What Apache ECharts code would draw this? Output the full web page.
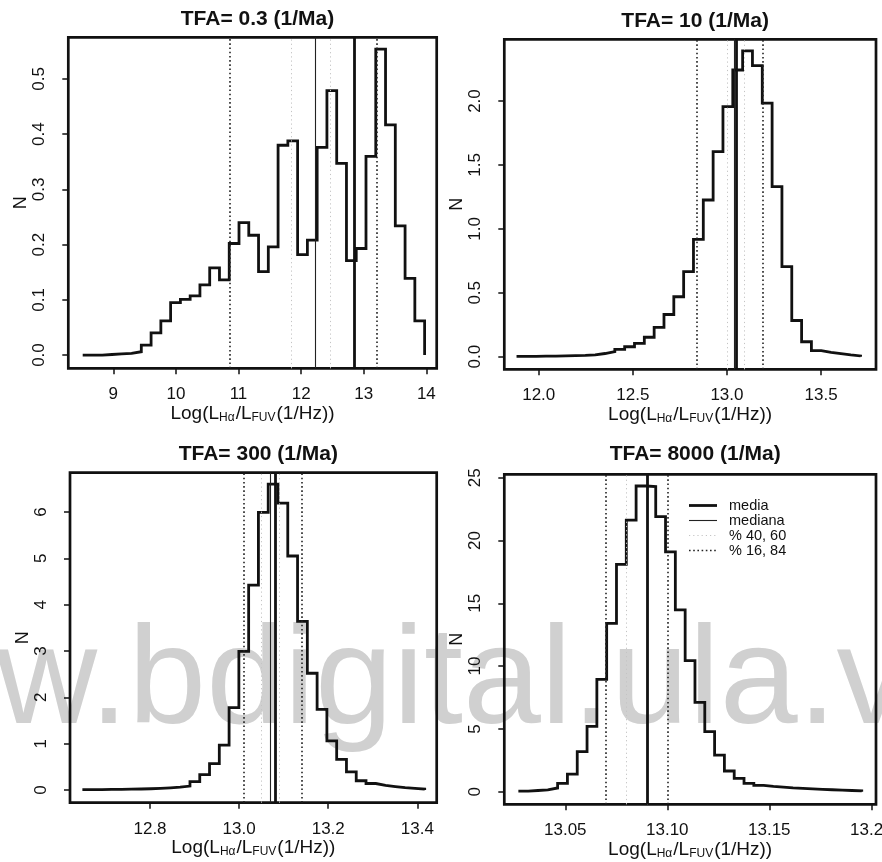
<!DOCTYPE html>
<html><head><meta charset="utf-8">
<script src="https://cdn.jsdelivr.net/npm/echarts@6/dist/echarts.min.js"></script>
<style>html,body{margin:0;padding:0;background:#fff;overflow:hidden}#c{width:910px;height:862px}</style>
</head><body><div id="c"></div>
<script>
// ---------- DATA ----------
const titles = ['TFA= 0.3 (1/Ma)', 'TFA= 10 (1/Ma)', 'TFA= 300 (1/Ma)', 'TFA= 8000 (1/Ma)'];

// panel 1 (TFA = 0.3): first bin edge, bin width, density per bin
const p1Start = 8.512, p1Width = 0.156;
const p1Values = [0.000, 0.000, 0.001, 0.002, 0.003, 0.006, 0.018, 0.040, 0.062, 0.095,
                  0.101, 0.107, 0.127, 0.158, 0.136, 0.202, 0.240, 0.217, 0.151, 0.196,
                  0.380, 0.388, 0.182, 0.208, 0.376, 0.479, 0.347, 0.171, 0.193, 0.360,
                  0.554, 0.417, 0.234, 0.139, 0.062];
const p1Lines = {media: 12.85, mediana: 12.22, p40: 11.85, p60: 12.47, p16: 10.86, p84: 13.20};
const p1XTicks = [9, 10, 11, 12, 13, 14];
const p1YTicks = [0, 0.1, 0.2, 0.3, 0.4, 0.5];

// panel 2 (TFA = 10)
const p2Start = 11.882, p2Width = 0.05223;
const p2Values = [0.002, 0.003, 0.004, 0.005, 0.007, 0.009, 0.011, 0.015, 0.025, 0.040,
                  0.058, 0.078, 0.104, 0.152, 0.230, 0.330, 0.469, 0.665, 0.918, 1.226,
                  1.604, 1.956, 2.243, 2.392, 2.277, 1.983, 1.330, 0.704, 0.283, 0.117,
                  0.047, 0.034, 0.024, 0.014, 0.006];
const p2Lines = {media: 13.053, mediana: 13.045, p40: 12.999, p60: 13.087, p16: 12.844, p84: 13.190};
const p2XTicks = [12.0, 12.5, 13.0, 13.5];
const p2YTicks = [0, 0.5, 1.0, 1.5, 2.0];

// panel 3 (TFA = 300)
const p3Start = 12.6482, p3Width = 0.021953;
const p3Values = [0.010, 0.010, 0.012, 0.015, 0.018, 0.022, 0.027, 0.034, 0.045, 0.060,
                  0.085, 0.180, 0.330, 0.570, 0.970, 1.780, 2.990, 4.420, 5.990, 6.600,
                  6.190, 5.050, 3.640, 2.520, 1.740, 1.060, 0.660, 0.390, 0.200, 0.140,
                  0.100, 0.075, 0.050, 0.035, 0.020];
const p3Lines = {media: 13.078, mediana: 13.067, p40: 13.054, p60: 13.088, p16: 13.013, p84: 13.136};
const p3XTicks = [12.8, 13.0, 13.2, 13.4];
const p3YTicks = [0, 1, 2, 3, 4, 5, 6];

// panel 4 (TFA = 8000)
const p4Start = 13.0270, p4Width = 0.004809;
const p4Values = [0.05, 0.10, 0.15, 0.30, 0.67, 1.41, 3.19, 5.20, 8.95, 13.40,
                  18.10, 21.63, 24.34, 24.30, 21.90, 19.10, 14.47, 10.43, 7.12, 4.78,
                  2.92, 1.65, 1.07, 0.67, 0.50, 0.42, 0.36, 0.30, 0.26, 0.22,
                  0.19, 0.16, 0.13, 0.10, 0.07];
const p4Lines = {media: 13.0888, mediana: 13.0870, p40: 13.0840, p60: 13.0924, p16: 13.0723, p84: 13.1049};
const p4XTicks = [13.05, 13.10, 13.15, 13.20];
const p4YTicks = [0, 5, 10, 15, 20, 25];

const legendNames = ['media', 'mediana', '% 40, 60', '% 16, 84'];
const watermark = 'w.bdigital.ula.v';

// ---------- LAYOUT / STYLE ----------
const FONT = '"Liberation Sans", Arial, Helvetica, sans-serif';
const INK = '#111';
const panels = [
  {start: p1Start, width: p1Width, values: p1Values, lines: p1Lines, xt: p1XTicks, yt: p1YTicks, xd: 0, yd: 1,
   grid: {left: 68.3, top: 37.3, width: 368.4, height: 331}, x: [8.282, 14.165], y: [-0.024, 0.5755]},
  {start: p2Start, width: p2Width, values: p2Values, lines: p2Lines, xt: p2XTicks, yt: p2YTicks, xd: 1, yd: 1,
   grid: {left: 504.3, top: 39.3, width: 371.7, height: 330}, x: [11.817, 13.792], y: [-0.0986, 2.483]},
  {start: p3Start, width: p3Width, values: p3Values, lines: p3Lines, xt: p3XTicks, yt: p3YTicks, xd: 1, yd: 0,
   grid: {left: 70, top: 472.7, width: 366.7, height: 330}, x: [12.6204, 13.4435], y: [-0.274, 6.848]},
  {start: p4Start, width: p4Width, values: p4Values, lines: p4Lines, xt: p4XTicks, yt: p4YTicks, xd: 2, yd: 0,
   grid: {left: 504.3, top: 474.3, width: 371.7, height: 330}, x: [13.0201, 13.2023], y: [-1.0, 25.27]}
];

const styles = {
  p40: {color: '#c4c4c4', width: 1, type: [1.2, 3]},
  p16: {color: '#222', width: 1.6, type: [1.6, 2.6]},
  mediana: {color: '#222', width: 1.1, type: 'solid'},
  media: {color: INK, width: 2.8, type: 'solid'}
};

const option = {
  animation: false,
  backgroundColor: '#fff',
  title: [], grid: [], xAxis: [], yAxis: [], series: [],
  graphic: []
};

panels.forEach((p, i) => {
  const g = p.grid;
  option.title.push({
    text: titles[i], left: g.left + g.width / 2, top: g.top - (i === 3 ? 36 : 34), textAlign: 'center',
    textStyle: {fontSize: 21, fontWeight: 'bold', fontFamily: FONT, color: INK}
  });
  option.grid.push({left: g.left, top: g.top, width: g.width, height: g.height,
    show: true, borderColor: INK, borderWidth: 2.7, backgroundColor: 'transparent'});
  option.xAxis.push({
    type: 'value', gridIndex: i, min: p.x[0], max: p.x[1],
    axisLine: {show: false, onZero: false}, splitLine: {show: false},
    axisTick: {show: true, customValues: p.xt, length: 6, inside: false, lineStyle: {color: INK, width: 1.5}},
    axisLabel: {customValues: p.xt, margin: 18, fontSize: 17, fontFamily: FONT, color: INK,
      formatter: v => Number(v).toFixed(p.xd)},
    name: 'Log(L{s|Hα}/L{s|FUV}(1/Hz))', nameLocation: 'middle', nameGap: 34,
    nameTextStyle: {fontSize: 19, fontFamily: FONT, color: INK, verticalAlign: 'top',
      rich: {s: {fontSize: 12, fontFamily: FONT, color: INK, verticalAlign: 'bottom', padding: [0, 1, 0, 0]}}}
  });
  option.yAxis.push({
    type: 'value', gridIndex: i, min: p.y[0], max: p.y[1],
    axisLine: {show: false, onZero: false}, splitLine: {show: false},
    axisTick: {show: true, customValues: p.yt, length: 6, inside: false, lineStyle: {color: INK, width: 1.5}},
    axisLabel: {customValues: p.yt, margin: 20, rotate: 90, fontSize: 17, fontFamily: FONT, color: INK,
      formatter: v => Number(v).toFixed(p.yd)},
    name: 'N', nameLocation: 'middle', nameGap: 36, nameRotate: 90,
    nameTextStyle: {fontSize: 18, fontFamily: FONT, color: INK}
  });
  const pts = p.values.map((v, k) => [p.start + k * p.width, v]);
  pts.push([p.start + p.values.length * p.width, 0]);
  const L = p.lines;
  option.series.push({
    type: 'line', xAxisIndex: i, yAxisIndex: i, data: pts, step: 'end',
    symbol: 'none', showSymbol: false, silent: true, z: 3,
    lineStyle: {color: INK, width: 2.8, join: 'miter', cap: 'butt'},
    markLine: {
      silent: true, symbol: ['none', 'none'], label: {show: false}, animation: false,
      data: [
        {xAxis: L.p40, lineStyle: styles.p40},
        {xAxis: L.p60, lineStyle: styles.p40},
        {xAxis: L.p16, lineStyle: styles.p16},
        {xAxis: L.p84, lineStyle: styles.p16},
        {xAxis: L.mediana, lineStyle: styles.mediana},
        {xAxis: L.media, lineStyle: styles.media}
      ]
    }
  });
});

// watermark
option.graphic.push({type: 'text', z: -5, silent: true,
  style: {text: watermark, x: -4, y: 754, fill: '#d0d0d0', font: '140px ' + FONT, verticalAlign: 'bottom'}});

// legend in panel 4
const legKeys = ['media', 'mediana', 'p40', 'p16'];
legKeys.forEach((k, j) => {
  const y = 505.5 + j * 15;
  const s = styles[k];
  option.graphic.push({type: 'line', z: 10, silent: true,
    shape: {x1: 689, y1: y, x2: 717, y2: y},
    style: {stroke: s.color, lineWidth: s.width, lineDash: Array.isArray(s.type) ? s.type : null}});
  option.graphic.push({type: 'text', z: 10, silent: true,
    style: {text: legendNames[j], x: 729, y: y, fill: INK, font: '14.5px ' + FONT, verticalAlign: 'middle'}});
});

const chart = echarts.init(document.getElementById('c'), null, {renderer: 'canvas'});
chart.setOption(option);
</script></body></html>
